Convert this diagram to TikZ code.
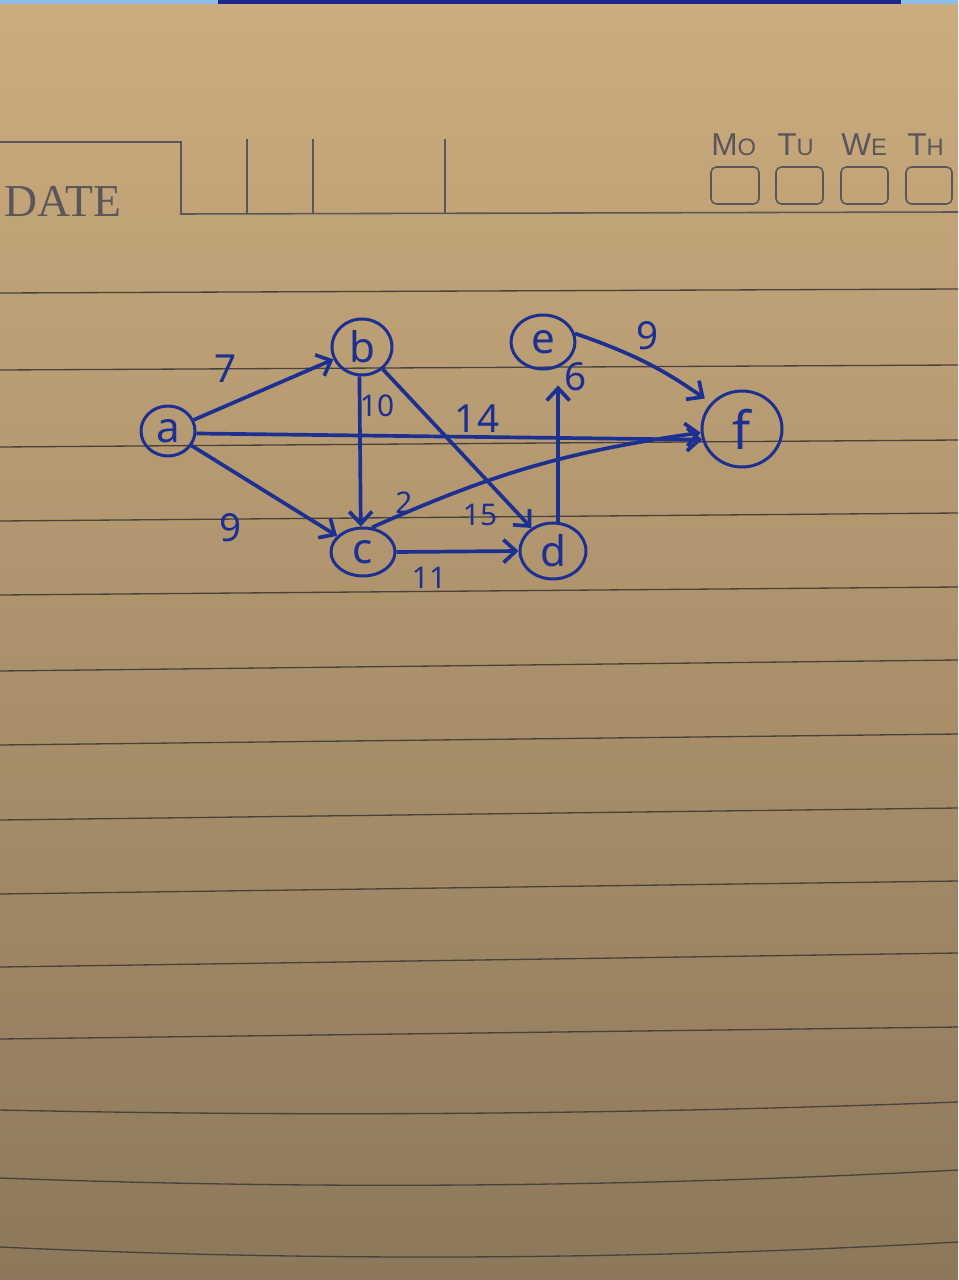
\documentclass[tikz,border=0pt]{standalone}
\usepackage{fontspec}
\setmainfont{Liberation Serif}
\newfontfamily\handfont{Noto Sans}
\newfontfamily\printsans{Liberation Sans}
\usetikzlibrary{shapes.geometric,arrows.meta,calc}
\definecolor{ink}{RGB}{28,48,146}
\definecolor{ruleclr}{RGB}{72,66,60}
\definecolor{papertop}{RGB}{204,172,126}
\definecolor{papermid}{RGB}{190,160,116}
\definecolor{paperbot}{RGB}{140,120,90}
\definecolor{printgray}{RGB}{90,86,92}
\definecolor{skyblue}{RGB}{140,190,235}
\definecolor{deepblue}{RGB}{30,40,140}
\begin{document}
\begin{tikzpicture}[x=0.02cm,y=-0.02cm,
  vert/.style={draw=ink, line width=1.7pt, ellipse, inner sep=0pt, text=ink,
    font=\handfont\fontsize{24}{24}\selectfont},
  edge/.style={draw=ink, line width=2.1pt,
    -{Straight Barb[length=7pt,width=13pt,line width=2.1pt]}},
  wt/.style={text=ink, inner sep=0pt, font=\handfont\fontsize{22}{22}\selectfont},
  wts/.style={text=ink, inner sep=0pt, font=\handfont\fontsize{17}{17}\selectfont},
  ruleline/.style={draw=ruleclr, line width=0.75pt},
  printline/.style={draw=printgray, line width=0.9pt}]

\useasboundingbox (0,0) rectangle (958,1280);
\shade[top color=papertop, middle color=papermid, bottom color=paperbot] (0,0) rectangle (958,1280);
\fill[skyblue] (0,0) rectangle (958,4);
\fill[deepblue] (218,0) rectangle (901,4);

% header
\draw[printline] (0,142) -- (181,142) -- (181,214) -- (958,212);
\draw[printline] (247,139) -- (247,213);
\draw[printline] (313,139) -- (313,213);
\draw[printline] (445,139) -- (445,213);
\node[anchor=base west, inner sep=0pt, text=printgray, font=\fontsize{26}{26}\selectfont] (date) at (4,217) {DATE};
\node[anchor=base west, inner sep=0pt, text=printgray, font=\printsans\fontsize{18}{18}\selectfont] (mo) at (711,156) {M{\fontsize{13.5}{13.5}\selectfont O}};
\node[anchor=base west, inner sep=0pt, text=printgray, font=\printsans\fontsize{18}{18}\selectfont] (tu) at (777,156) {T{\fontsize{13.5}{13.5}\selectfont U}};
\node[anchor=base west, inner sep=0pt, text=printgray, font=\printsans\fontsize{18}{18}\selectfont] (we) at (841,156) {W{\fontsize{13.5}{13.5}\selectfont E}};
\node[anchor=base west, inner sep=0pt, text=printgray, font=\printsans\fontsize{18}{18}\selectfont] (th) at (907,156) {T{\fontsize{13.5}{13.5}\selectfont H}};
\draw[printline, rounded corners=3pt] (711,167) rectangle (759,204);
\draw[printline, rounded corners=3pt] (776,167) rectangle (823,204);
\draw[printline, rounded corners=3pt] (841,167) rectangle (888,204);
\draw[printline, rounded corners=3pt] (906,167) rectangle (952,204);

% ruled lines
\draw[ruleline] (0,293) -- (958,289);
\draw[ruleline] (0,370) -- (958,365);
\draw[ruleline] (0,447) -- (958,440);
\draw[ruleline] (0,521) -- (958,513);
\draw[ruleline] (0,595) -- (958,587);
\draw[ruleline] (0,671) -- (958,660);
\draw[ruleline] (0,745) -- (958,734);
\draw[ruleline] (0,820) -- (958,808);
\draw[ruleline] (0,894) -- (958,881);
\draw[ruleline] (0,967) -- (958,953);
\draw[ruleline] (0,1039) -- (958,1027);
\draw[ruleline] (0,1110) .. controls (319,1117) and (639,1114) .. (958,1102);
\draw[ruleline] (0,1178) .. controls (319,1190) and (639,1187) .. (958,1170);
\draw[ruleline] (0,1247) .. controls (319,1262) and (639,1260) .. (958,1242);

% graph
\node[vert, minimum width=1.08cm, minimum height=1.0cm] (a) at (168,431) {a};
\node[vert, minimum width=1.2cm, minimum height=1.12cm] (b) at (362,347) {b};
\node[vert, minimum width=1.28cm, minimum height=0.96cm] (c) at (363,552) {c};
\node[vert, minimum width=1.32cm, minimum height=1.12cm] (d) at (553,551) {d};
\node[vert, minimum width=1.28cm, minimum height=1.08cm] (e) at (543,342) {e};
\node[vert, minimum width=1.6cm, minimum height=1.52cm, font=\handfont\fontsize{30}{30}\selectfont] (f) at (742,429) {f};

\draw[edge] (a) -- (b);
\draw[edge] (a.355) -- (f.195);
\draw[edge] (a) -- (c);
\draw[edge] (b.265) -- (c.95);
\draw[edge] (b) -- (d);
\draw[edge] (c.70) to[bend left=8] (f.185);
\draw[edge] (c.east) -- (d.west);
\draw[edge, shorten >=0.3cm] (d.80) -- (d.80 |- e.south);
\draw[edge, shorten >=0.15cm] (e.15) to[bend left=8] (f.140);

\node[wt] (w7) at (226,369) {7};
\node[wt] (w9a) at (231,528) {9};
\node[wts] (w10) at (377,406) {10};
\node[wt] (w14) at (477,419) {14};
\node[wts] (w2) at (404,503) {2};
\node[wts] (w15) at (480,515) {15};
\node[wts] (w11) at (429,578) {11};
\node[wt] (w6) at (576,377) {6};
\node[wt] (w9b) at (648,336) {9};
\end{tikzpicture}
\end{document}
